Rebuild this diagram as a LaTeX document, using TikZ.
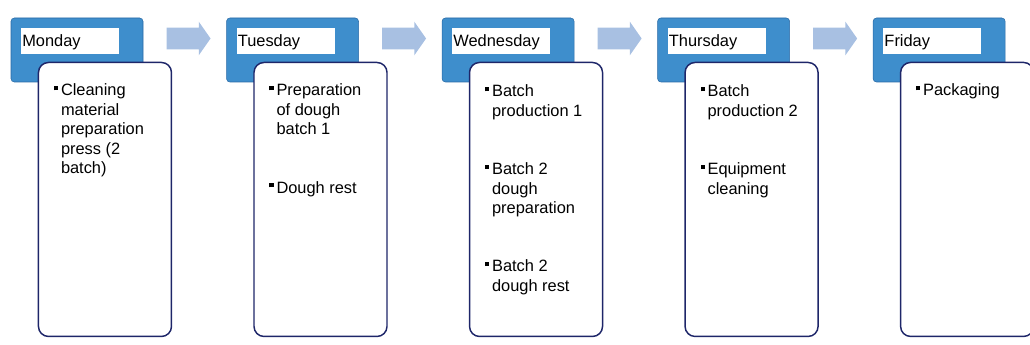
\documentclass[tikz,border=0pt]{standalone}
\usepackage{fontspec}
\setmainfont{Liberation Sans}
\usetikzlibrary{positioning,calc,shapes.arrows}
\definecolor{dayblue} {RGB}{62,142,204}
\definecolor{dayedge} {RGB}{40,105,165}
\definecolor{boxnavy} {RGB}{30,38,105}
\definecolor{flowblue}{RGB}{168,192,226}
\newcommand{\bul}{\leavevmode\rule{0pt}{9.5pt}\llap{\rule[4.2pt]{3.3pt}{3.3pt}\hspace{2pt}}}

\begin{document}
\begin{tikzpicture}[
  x=0.75pt, y=0.75pt,
  every node/.style={font=\fontsize{12.3}{14.6}\selectfont},
  dayhead/.style={fill=dayblue,draw=dayedge,rounded corners=2.5pt,
    minimum width=99pt,minimum height=48pt,inner sep=0pt},
  daylabel/.style={fill=white,anchor=north west,minimum width=73.5pt,
    minimum height=19.5pt,text width=71.5pt,inner xsep=1pt,inner ysep=0pt,
    align=left,text height=8.8pt,text depth=0pt},
  taskbox/.style={draw=boxnavy,line width=1.1pt,fill=white,rounded corners=7.5pt,
    anchor=north west,minimum width=99.75pt,minimum height=205.5pt,inner sep=0pt},
  tasks/.style={anchor=north west,align=left,inner sep=0pt},
  flow/.style={single arrow,fill=flowblue,minimum height=33pt,
    inner xsep=0pt,inner ysep=7.9pt,
    single arrow head extend=4.5pt,single arrow tip angle=110},
]
\useasboundingbox (0,0) rectangle (1030,-345);

%% Day headers
\node[dayhead] (mon) at (77,-50) {};
\node[dayhead,right=62.25pt of mon] (tue) {};
\node[dayhead,right=62.25pt of tue] (wed) {};
\node[dayhead,right=62.25pt of wed] (thu) {};
\node[dayhead,right=62.25pt of thu] (fri) {};

%% Flow arrows between the days
\foreach \a/\b in {mon/tue,tue/wed,wed/thu,thu/fri}{
  \node[flow] (\a-\b) at ($(\a.east)!0.5!(\b.west)+(0,11.5)$) {};
}

%% Day names
\node[daylabel] (monlbl) at ($(mon.north west)+(10,-10)$) {Monday};
\node[daylabel] (tuelbl) at ($(tue.north west)+(10,-10)$) {Tuesday};
\node[daylabel] (wedlbl) at ($(wed.north west)+(10,-10)$) {Wednesday};
\node[daylabel] (thulbl) at ($(thu.north west)+(10,-10)$) {Thursday};
\node[daylabel] (frilbl) at ($(fri.north west)+(10,-10)$) {Friday};

%% Task boxes
\foreach \d in {mon,tue,wed,thu,fri}{
  \node[taskbox] (\d box) at ($(\d.north west)+(27,-44)$) {};
}

%% Tasks
\node[tasks] (montxt) at ($(monbox.north west)+(23,-21.3)$)
  {\bul Cleaning\\material\\preparation\\press (2\\batch)};
\node[tasks] (tuetxt) at ($(tuebox.north west)+(23,-21.3)$)
  {\bul Preparation\\of dough\\batch 1\\[29pt]\bul Dough rest};
\node[tasks] (wedtxt) at ($(wedbox.north west)+(23,-22.3)$)
  {\bul Batch\\production 1\\[29pt]\bul Batch 2\\dough\\preparation\\[29pt]
   \bul Batch 2\\dough rest};
\node[tasks] (thutxt) at ($(thubox.north west)+(23,-22.3)$)
  {\bul Batch\\production 2\\[29pt]\bul Equipment\\cleaning};
\node[tasks] (fritxt) at ($(fribox.north west)+(23,-21.3)$)
  {\bul Packaging};

\end{tikzpicture}
\end{document}
